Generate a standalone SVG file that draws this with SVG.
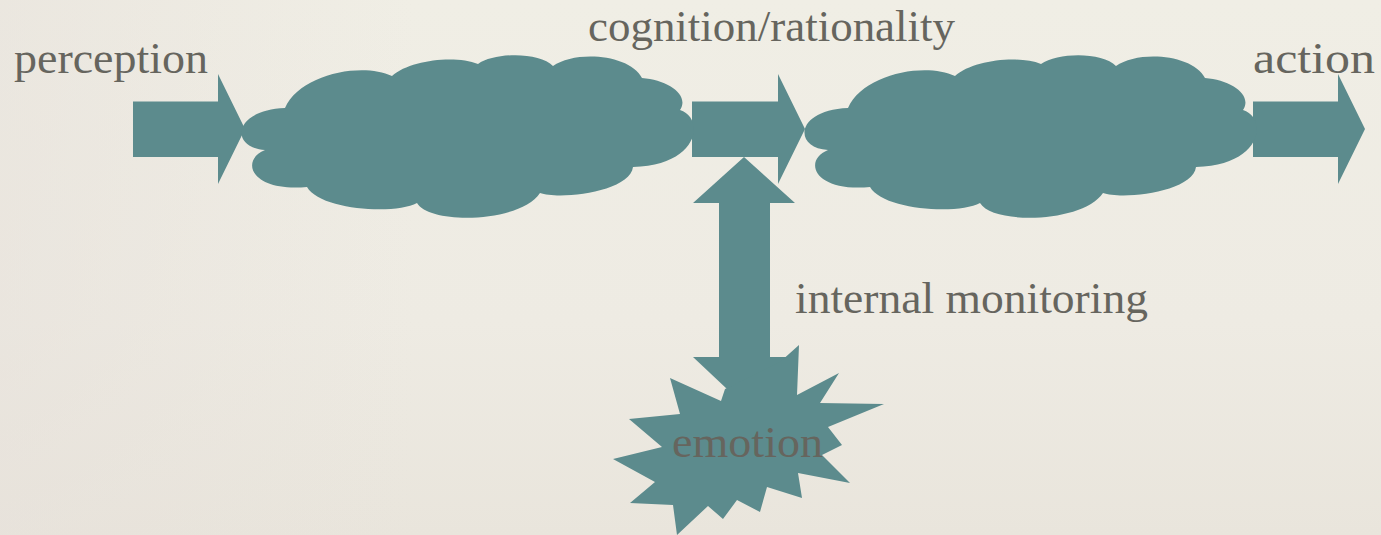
<svg xmlns="http://www.w3.org/2000/svg" width="1381" height="535" viewBox="0 0 1381 535">
  <defs>
    <linearGradient id="bg" x1="0" y1="0" x2="0" y2="1">
      <stop offset="0" stop-color="#f0eee5"/>
      <stop offset="0.6" stop-color="#eeebe3"/>
      <stop offset="1" stop-color="#e9e5dc"/>
    </linearGradient>
    <linearGradient id="bgl" x1="0" y1="0" x2="1" y2="0">
      <stop offset="0" stop-color="#e6e0da" stop-opacity="0.5"/>
      <stop offset="0.3" stop-color="#e6e0da" stop-opacity="0"/>
      <stop offset="1" stop-color="#e6e0da" stop-opacity="0"/>
    </linearGradient>
    <path id="cloud" d="M 285,108 C 300,74 362,62 392,76 C 410,60 455,55 478,64 C 495,52 540,52 553,66 C 575,50 630,54 642,78 C 668,80 690,95 680,110 C 705,118 700,165 633,167 C 630,192 560,200 540,193 C 520,223 430,225 417,203 C 395,215 320,210 307,187 C 250,192 240,160 265,150 C 230,148 232,110 285,108 Z"/>
  </defs>
  <style>
    .shape { fill: #5c8b8d; }
    .label { font-family: "Liberation Serif", "DejaVu Serif", serif; font-size: 44px; fill: #66655e; }
  </style>
  <rect width="1381" height="535" fill="url(#bg)"/>
  <rect width="1381" height="535" fill="url(#bgl)"/>

  <g id="connectors">
    <path class="shape" d="M133,101.5 H218 V74 L245,129 L218,184 V157 H133 Z"/>
    <path class="shape" d="M692,101.5 H778 V74 L805,129 L778,184 V157 H692 Z"/>
    <path class="shape" d="M1253,101.5 H1338 V74 L1365,129 L1338,184 V157 H1253 Z"/>
    <path class="shape" d="M744,157 L795,203 H770 V357 H795 L744,405 L693,357 H719 V203 H693 Z"/>
  </g>

  <g id="cloud1">
    <use href="#cloud" class="shape"/>
  </g>
  <g id="cloud2">
    <use href="#cloud" class="shape" transform="translate(563,0)"/>
  </g>

  <g id="emotion">
    <polygon class="shape" points="799,345 797,395 839,373 820,403 884,404 828,427 842,445 822,455 850,483 798,473 802,498 767,487 760,512 737,500 723,519 708,506 677,535 673,505 630,503 655,482 613,459 662,447 629,419 680,414 670,378 721,401 725,389 744,380 780,362"/>
    <text class="label" x="672" y="457" textLength="151" lengthAdjust="spacingAndGlyphs">emotion</text>
  </g>

  <g id="labels">
    <text class="label" x="14" y="73" textLength="194" lengthAdjust="spacingAndGlyphs">perception</text>
    <text class="label" x="588" y="41" textLength="367" lengthAdjust="spacingAndGlyphs">cognition/rationality</text>
    <text class="label" x="1253" y="73" textLength="122" lengthAdjust="spacingAndGlyphs">action</text>
    <text class="label" x="795" y="313" textLength="353" lengthAdjust="spacingAndGlyphs">internal monitoring</text>
  </g>
</svg>
